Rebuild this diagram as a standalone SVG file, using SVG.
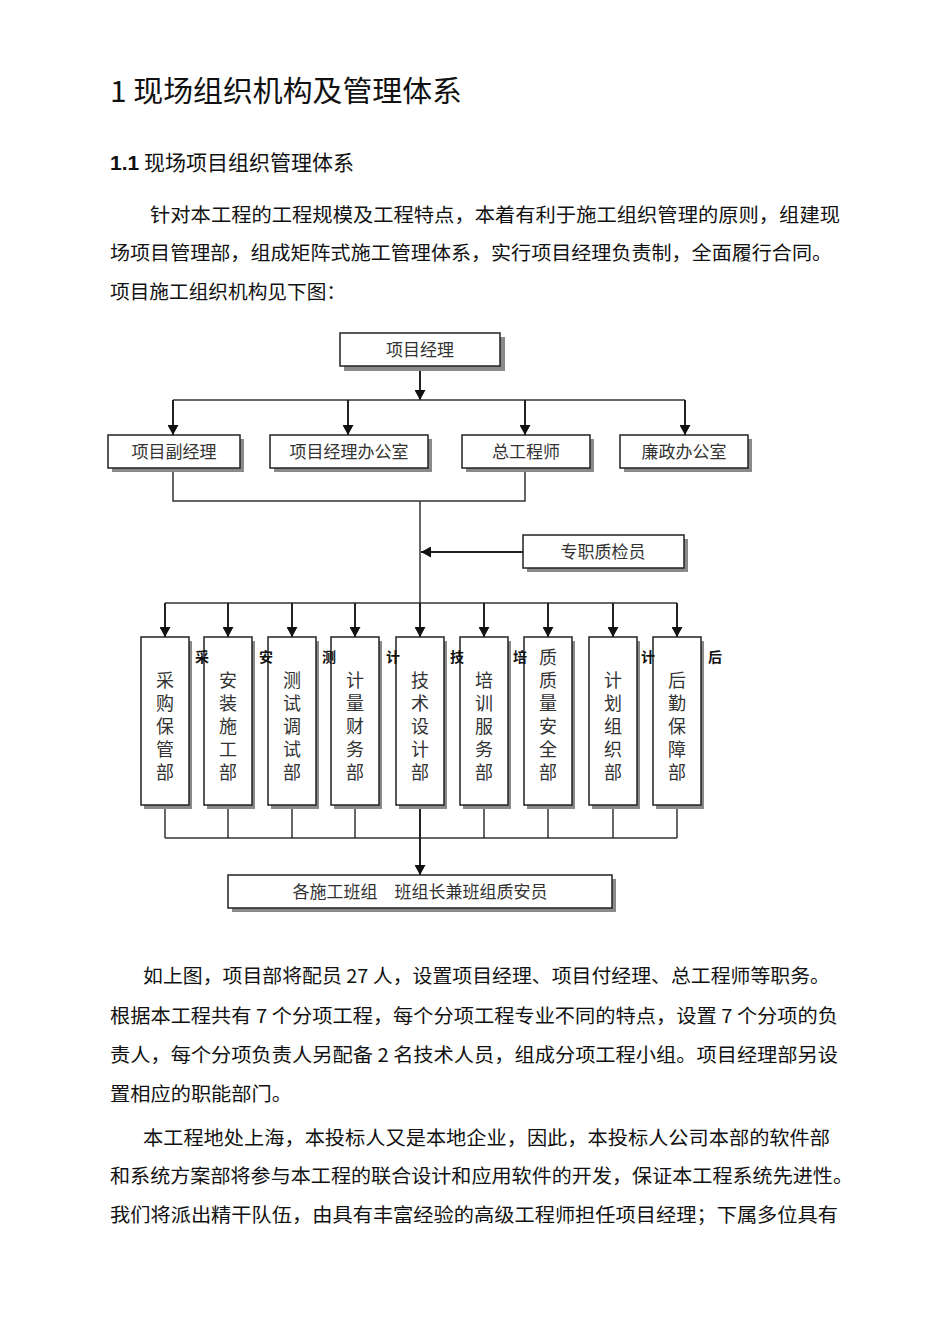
<svg xmlns="http://www.w3.org/2000/svg" width="950" height="1344" viewBox="0 0 950 1344">
<style>
  .t{font-family:"Noto Sans CJK SC","Liberation Serif",serif;fill:#111}
  .body{font-size:19px}
  .box{fill:#fff;stroke:#222;stroke-width:1.5}
  .sh{fill:#8a8a8a}
  .lbl{font-family:"Noto Sans CJK SC","Liberation Sans",sans-serif;font-size:17px;fill:#333;text-anchor:middle}
  .vl{font-family:"Noto Sans CJK SC","Liberation Sans",sans-serif;font-size:18px;fill:#333;writing-mode:vertical-rl;letter-spacing:5px}
  .st{font-family:"Noto Sans CJK SC","Liberation Sans",sans-serif;font-size:14px;font-weight:bold;fill:#111;text-anchor:middle}
  .ln{fill:none;stroke:#333;stroke-width:1.5}
  .ar{fill:none;stroke:#222;stroke-width:2}
</style>
<defs>
  <marker id="ah" markerUnits="userSpaceOnUse" markerWidth="10" markerHeight="11" refX="10" refY="5.5" orient="auto">
    <path d="M0,0 L10,5.5 L0,11 z" fill="#111"/>
  </marker>
</defs>
<rect width="950" height="1344" fill="#fff"/>

<text class="t" x="110" y="102" font-size="29" textLength="352" lengthAdjust="spacingAndGlyphs">1 现场组织机构及管理体系</text>
<text class="t" x="110" y="170" font-size="21"><tspan font-family="Liberation Sans,Arial,sans-serif" font-weight="bold">1.1</tspan> 现场项目组织管理体系</text>

<g class="t body">
  <text x="150" y="222" textLength="690" lengthAdjust="spacingAndGlyphs">针对本工程的工程规模及工程特点，本着有利于施工组织管理的原则，组建现</text>
  <text x="110" y="260" textLength="722" lengthAdjust="spacingAndGlyphs">场项目管理部，组成矩阵式施工管理体系，实行项目经理负责制，全面履行合同。</text>
  <text x="110" y="299" textLength="236" lengthAdjust="spacingAndGlyphs">项目施工组织机构见下图：</text>
</g>

<g id="connectors">
  <line class="ar" x1="420" y1="367" x2="420" y2="400" marker-end="url(#ah)"/>
  <line class="ln" x1="173" y1="400" x2="685" y2="400"/>
  <line class="ar" x1="173" y1="400" x2="173" y2="435" marker-end="url(#ah)"/>
  <line class="ar" x1="348" y1="400" x2="348" y2="435" marker-end="url(#ah)"/>
  <line class="ar" x1="525" y1="400" x2="525" y2="435" marker-end="url(#ah)"/>
  <line class="ar" x1="685" y1="400" x2="685" y2="435" marker-end="url(#ah)"/>
  <polyline class="ln" points="173,468 173,501 525,501 525,468"/>
  <line class="ln" x1="420" y1="501" x2="420" y2="603"/>
  <line class="ar" x1="523" y1="552" x2="421" y2="552" marker-end="url(#ah)"/>
  <line class="ln" x1="165" y1="603" x2="677" y2="603"/>
  <line class="ar" x1="165" y1="603" x2="165" y2="637" marker-end="url(#ah)"/>
  <line class="ar" x1="228" y1="603" x2="228" y2="637" marker-end="url(#ah)"/>
  <line class="ar" x1="292" y1="603" x2="292" y2="637" marker-end="url(#ah)"/>
  <line class="ar" x1="355" y1="603" x2="355" y2="637" marker-end="url(#ah)"/>
  <line class="ar" x1="420" y1="603" x2="420" y2="637" marker-end="url(#ah)"/>
  <line class="ar" x1="484" y1="603" x2="484" y2="637" marker-end="url(#ah)"/>
  <line class="ar" x1="548" y1="603" x2="548" y2="637" marker-end="url(#ah)"/>
  <line class="ar" x1="613" y1="603" x2="613" y2="637" marker-end="url(#ah)"/>
  <line class="ar" x1="677" y1="603" x2="677" y2="637" marker-end="url(#ah)"/>
  <line class="ln" x1="165" y1="805" x2="165" y2="838"/>
  <line class="ln" x1="228" y1="805" x2="228" y2="838"/>
  <line class="ln" x1="292" y1="805" x2="292" y2="838"/>
  <line class="ln" x1="355" y1="805" x2="355" y2="838"/>
  <line class="ln" x1="484" y1="805" x2="484" y2="838"/>
  <line class="ln" x1="548" y1="805" x2="548" y2="838"/>
  <line class="ln" x1="613" y1="805" x2="613" y2="838"/>
  <line class="ln" x1="677" y1="805" x2="677" y2="838"/>
  <line class="ln" x1="165" y1="838" x2="677" y2="838"/>
  <line class="ar" x1="420" y1="805" x2="420" y2="875" marker-end="url(#ah)"/>
</g>

<g id="n-pm"><rect class="sh" x="344" y="337" width="161" height="34"/><rect class="box" x="340" y="333" width="160" height="33"/><text class="lbl" x="420" y="356">项目经理</text></g>

<g id="n-deputy"><rect class="sh" x="112" y="439" width="132" height="33"/><rect class="box" x="108" y="435" width="132" height="33"/><text class="lbl" x="174" y="458">项目副经理</text></g>
<g id="n-office"><rect class="sh" x="274" y="439" width="158" height="33"/><rect class="box" x="270" y="435" width="158" height="33"/><text class="lbl" x="349" y="458">项目经理办公室</text></g>
<g id="n-chief"><rect class="sh" x="466" y="439" width="128" height="33"/><rect class="box" x="462" y="435" width="128" height="33"/><text class="lbl" x="526" y="458">总工程师</text></g>
<g id="n-clean"><rect class="sh" x="624" y="439" width="128" height="33"/><rect class="box" x="620" y="435" width="128" height="33"/><text class="lbl" x="684" y="458">廉政办公室</text></g>

<g id="n-qc"><rect class="sh" x="527" y="539" width="161" height="33"/><rect class="box" x="523" y="535" width="161" height="33"/><text class="lbl" x="603" y="558">专职质检员</text></g>

<g id="n-d1"><rect class="sh" x="144" y="641" width="48" height="168"/><rect class="box" x="141" y="637" width="48" height="168"/><text class="vl" x="165" y="671">采购保管部</text></g>
<g id="n-d2"><rect class="sh" x="207" y="641" width="48" height="168"/><rect class="box" x="204" y="637" width="48" height="168"/><text class="vl" x="228" y="671">安装施工部</text></g>
<g id="n-d3"><rect class="sh" x="271" y="641" width="48" height="168"/><rect class="box" x="268" y="637" width="48" height="168"/><text class="vl" x="292" y="671">测试调试部</text></g>
<g id="n-d4"><rect class="sh" x="334" y="641" width="48" height="168"/><rect class="box" x="331" y="637" width="48" height="168"/><text class="vl" x="355" y="671">计量财务部</text></g>
<g id="n-d5"><rect class="sh" x="399" y="641" width="48" height="168"/><rect class="box" x="396" y="637" width="48" height="168"/><text class="vl" x="420" y="671">技术设计部</text></g>
<g id="n-d6"><rect class="sh" x="463" y="641" width="48" height="168"/><rect class="box" x="460" y="637" width="48" height="168"/><text class="vl" x="484" y="671">培训服务部</text></g>
<g id="n-d7"><rect class="sh" x="527" y="641" width="48" height="168"/><rect class="box" x="524" y="637" width="48" height="168"/><text class="vl" x="548" y="648">质质量安全部</text></g>
<g id="n-d8"><rect class="sh" x="592" y="641" width="48" height="168"/><rect class="box" x="589" y="637" width="48" height="168"/><text class="vl" x="613" y="671">计划组织部</text></g>
<g id="n-d9"><rect class="sh" x="656" y="641" width="48" height="168"/><rect class="box" x="653" y="637" width="48" height="168"/><text class="vl" x="677" y="671">后勤保障部</text></g>

<g id="stray">
  <text class="st" x="202" y="662">采</text>
  <text class="st" x="266" y="662">安</text>
  <text class="st" x="329" y="662">测</text>
  <text class="st" x="393" y="662">计</text>
  <text class="st" x="457" y="662">技</text>
  <text class="st" x="520" y="662">培</text>
  <text class="st" x="648" y="662">计</text>
  <text class="st" x="715" y="662">后</text>
</g>

<g id="n-teams"><rect class="sh" x="232" y="879" width="384" height="33"/><rect class="box" x="228" y="875" width="384" height="33"/><text class="lbl" x="420" y="898">各施工班组　班组长兼班组质安员</text></g>

<g class="t body">
  <text x="143" y="983" textLength="687" lengthAdjust="spacingAndGlyphs">如上图，项目部将配员 27 人，设置项目经理、项目付经理、总工程师等职务。</text>
  <text x="110" y="1023" textLength="728" lengthAdjust="spacingAndGlyphs">根据本工程共有 7 个分项工程，每个分项工程专业不同的特点，设置 7 个分项的负</text>
  <text x="110" y="1062" textLength="728" lengthAdjust="spacingAndGlyphs">责人，每个分项负责人另配备 2 名技术人员，组成分项工程小组。项目经理部另设</text>
  <text x="110" y="1101" textLength="182" lengthAdjust="spacingAndGlyphs">置相应的职能部门。</text>
  <text x="143" y="1145" textLength="687" lengthAdjust="spacingAndGlyphs">本工程地处上海，本投标人又是本地企业，因此，本投标人公司本部的软件部</text>
  <text x="110" y="1183" textLength="743" lengthAdjust="spacingAndGlyphs">和系统方案部将参与本工程的联合设计和应用软件的开发，保证本工程系统先进性。</text>
  <text x="110" y="1222" textLength="728" lengthAdjust="spacingAndGlyphs">我们将派出精干队伍，由具有丰富经验的高级工程师担任项目经理；下属多位具有</text>
</g>
</svg>
